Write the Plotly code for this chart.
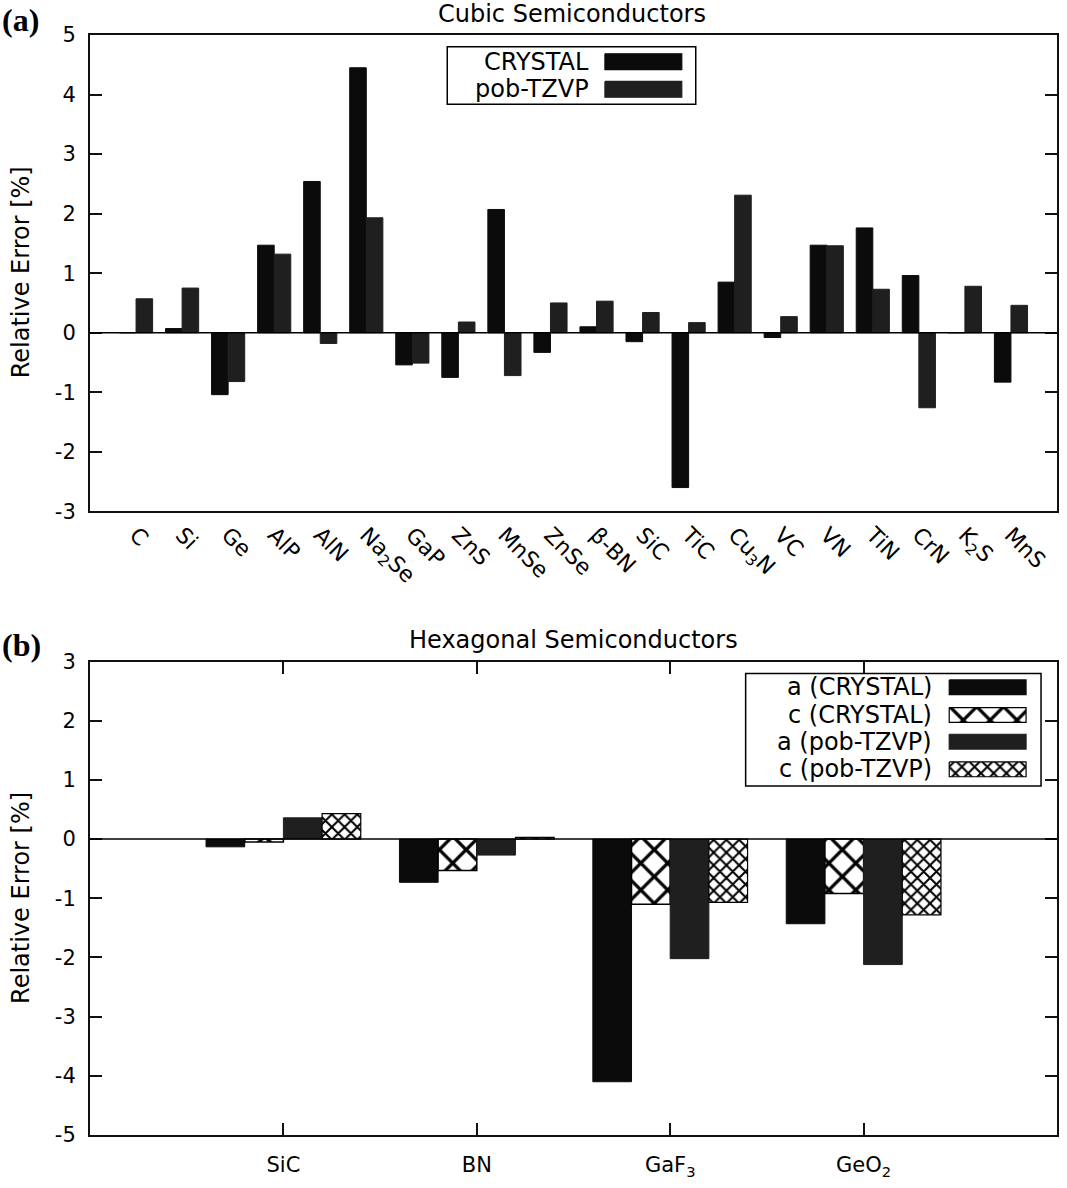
import plotly.graph_objects as go

# ---- data ----
cubic = ["C", "Si", "Ge", "AlP", "AlN", "Na<sub>2</sub>Se", "GaP", "ZnS", "MnSe", "ZnSe",
         "β-BN", "SiC", "TiC", "Cu<sub>3</sub>N", "VC", "VN", "TiN", "CrN", "K<sub>2</sub>S", "MnS"]
cubic_crystal = [0.0, 0.07, -1.04, 1.47, 2.54, 4.45, -0.54, -0.75, 2.07, -0.33,
                 0.10, -0.15, -2.60, 0.85, -0.08, 1.47, 1.76, 0.96, 0.0, -0.83]
cubic_pob = [0.57, 0.75, -0.82, 1.32, -0.18, 1.93, -0.51, 0.18, -0.72, 0.50,
             0.53, 0.34, 0.17, 2.31, 0.27, 1.46, 0.73, -1.26, 0.78, 0.46]

hexa = ["SiC", "BN", "GaF<sub>3</sub>", "GeO<sub>2</sub>"]
a_crystal = [-0.13, -0.73, -4.10, -1.43]
c_crystal = [-0.05, -0.53, -1.10, -0.92]
a_pob = [0.36, -0.27, -2.02, -2.12]
c_pob = [0.43, 0.03, -1.07, -1.28]

yticks_top = [-3, -2, -1, 0, 1, 2, 3, 4, 5]
yticks_bot = [-5, -4, -3, -2, -1, 0, 1, 2, 3]

# ---- page geometry (pixels -> paper) ----
W, H = 1067, 1188
L, R, T, B = 90, 8, 35, 40
def px(x): return (x - L) / (W - L - R)
def py(y): return (H - B - y) / (H - T - B)

FONT = "DejaVu Sans"
BLACK = "#0b0b0b"
GREY = "#1f1f1f"
big_x = dict(shape="x", size=19, solidity=0.32, fgcolor="black", bgcolor="white", fillmode="replace")
fine_x = dict(shape="x", size=9, solidity=0.4, fgcolor="black", bgcolor="white", fillmode="replace")

fig = go.Figure()

# top panel
fig.add_trace(go.Bar(x=cubic, y=cubic_crystal, width=0.36, offset=-0.36, xaxis="x", yaxis="y",
                     marker=dict(color=BLACK, line=dict(color=BLACK, width=1))))
fig.add_trace(go.Bar(x=cubic, y=cubic_pob, width=0.36, offset=0.0, xaxis="x", yaxis="y",
                     marker=dict(color=GREY, line=dict(color=GREY, width=1))))

# bottom panel
fig.add_trace(go.Bar(x=hexa, y=a_crystal, width=0.2, offset=-0.4, xaxis="x2", yaxis="y2",
                     marker=dict(color=BLACK, line=dict(color=BLACK, width=1))))
fig.add_trace(go.Bar(x=hexa, y=c_crystal, width=0.2, offset=-0.2, xaxis="x2", yaxis="y2",
                     marker=dict(color="white", pattern=big_x, line=dict(color="black", width=1.5))))
fig.add_trace(go.Bar(x=hexa, y=a_pob, width=0.2, offset=0.0, xaxis="x2", yaxis="y2",
                     marker=dict(color=GREY, line=dict(color=GREY, width=1))))
fig.add_trace(go.Bar(x=hexa, y=c_pob, width=0.2, offset=0.2, xaxis="x2", yaxis="y2",
                     marker=dict(color="white", pattern=fine_x, line=dict(color="black", width=1.2))))

# ---- hand-drawn legends (text on the left, swatch on the right) ----
def swatch(x0, x1, y0, y1, color, pattern=None):
    kw = dict(x=[x0, x1, x1, x0, x0], y=[y0, y0, y1, y1, y0], mode="lines", fill="toself",
              xaxis="x3", yaxis="y3", hoverinfo="skip", showlegend=False,
              line=dict(color="black" if pattern else color, width=1.2))
    if pattern:
        kw["fillpattern"] = pattern
        kw["fillcolor"] = "white"
    else:
        kw["fillcolor"] = color
    fig.add_trace(go.Scatter(**kw))

top_legend = [("CRYSTAL", BLACK, None, 62), ("pob-TZVP", GREY, None, 90)]
bot_legend = [("a (CRYSTAL)", BLACK, None, 695), ("c (CRYSTAL)", None, big_x, 723),
              ("a (pob-TZVP)", GREY, None, 750), ("c (pob-TZVP)", None, fine_x, 778)]

annotations = []
for name, col, pat, yc in top_legend:
    swatch(606, 683, yc - 8, yc + 8, col, pat)
    annotations.append(dict(text=name, x=px(592), y=py(yc), xanchor="right"))
for name, col, pat, yc in bot_legend:
    swatch(951, 1028, yc - 7.5, yc + 7.5, col, pat)
    annotations.append(dict(text=name, x=px(936), y=py(yc), xanchor="right"))

for a in annotations:
    a.update(xref="paper", yref="paper", showarrow=False, yanchor="middle",
             font=dict(family=FONT, size=24, color="black"))

def label(text, x, y, size, family=FONT, angle=0):
    return dict(text=text, x=px(x), y=py(y), xref="paper", yref="paper", showarrow=False,
                xanchor="center", yanchor="middle", textangle=angle,
                font=dict(family=family, size=size, color="black"))

annotations += [
    label("Cubic Semiconductors", 573, 14, 24),
    label("Hexagonal Semiconductors", 575, 647, 24),
    label("Relative Error [%]", 21, 275, 24, angle=-90),
    label("Relative Error [%]", 21, 908, 24, angle=-90),
    label("<b>(a)</b>", 20, 20, 32, family="Liberation Serif"),
    label("<b>(b)</b>", 21, 652, 32, family="Liberation Serif"),
]

shapes = [
    dict(type="rect", xref="paper", yref="paper", x0=px(448), x1=px(697), y0=py(47), y1=py(105),
         line=dict(color="black", width=1.5), layer="above"),
    dict(type="rect", xref="paper", yref="paper", x0=px(747), x1=px(1043), y0=py(681), y1=py(795),
         line=dict(color="black", width=1.5), layer="above"),
    dict(type="line", xref="paper", yref="y", x0=0, x1=1, y0=0, y1=0,
         line=dict(color="black", width=1.5), layer="above"),
    dict(type="line", xref="paper", yref="y2", x0=0, x1=1, y0=0, y1=0,
         line=dict(color="black", width=1.5), layer="above"),
]

axis_common = dict(showline=True, linecolor="#111", linewidth=2, showgrid=False, zeroline=False,
                   fixedrange=True)
tick_font = dict(family=FONT, size=21, color="black")

fig.update_layout(
    width=W, height=H,
    margin=dict(l=L, r=R, t=T, b=B),
    paper_bgcolor="white", plot_bgcolor="rgba(0,0,0,0)",
    showlegend=False, barmode="overlay",
    font=dict(family=FONT, color="black"),
    xaxis=dict(domain=[0, 1], anchor="y", type="category", categoryorder="array", categoryarray=cubic,
               range=[-1, 20], ticks="", mirror=True, tickangle=45,
               tickfont=dict(family=FONT, size=22, color="black"), **axis_common),
    yaxis=dict(domain=[py(517), 1], anchor="x", range=[-3, 5], tickvals=yticks_top,
               ticktext=[str(v) for v in yticks_top], ticks="inside", ticklen=12, tickwidth=1.5,
               tickcolor="#111", mirror="ticks", ticklabelstandoff=8, tickfont=tick_font, **axis_common),
    xaxis2=dict(domain=[0, 1], anchor="y2", type="category", categoryorder="array", categoryarray=hexa,
                range=[-1, 4], ticks="inside", ticklen=12, tickwidth=1.5, tickcolor="#111",
                mirror="ticks", ticklabelstandoff=10, tickfont=tick_font, **axis_common),
    yaxis2=dict(domain=[0, py(669)], anchor="x2", range=[-5, 3], tickvals=yticks_bot,
                ticktext=[str(v) for v in yticks_bot], ticks="inside", ticklen=12, tickwidth=1.5,
                tickcolor="#111", mirror="ticks", ticklabelstandoff=8, tickfont=tick_font, **axis_common),
    # invisible pixel-coordinate layer for the legend swatches
    xaxis3=dict(domain=[0, 1], anchor="y3", range=[L, W - R], visible=False, fixedrange=True),
    yaxis3=dict(domain=[0, 1], anchor="x3", range=[H - B, T], visible=False, fixedrange=True),
    annotations=annotations,
    shapes=shapes,
)

# drop the browser's default body margin so the figure sits at the page corner
fig.write_html("out.html", config={"displayModeBar": False},
               post_script="document.body.style.margin='0px';"
                           "document.documentElement.style.overflow='hidden';")
